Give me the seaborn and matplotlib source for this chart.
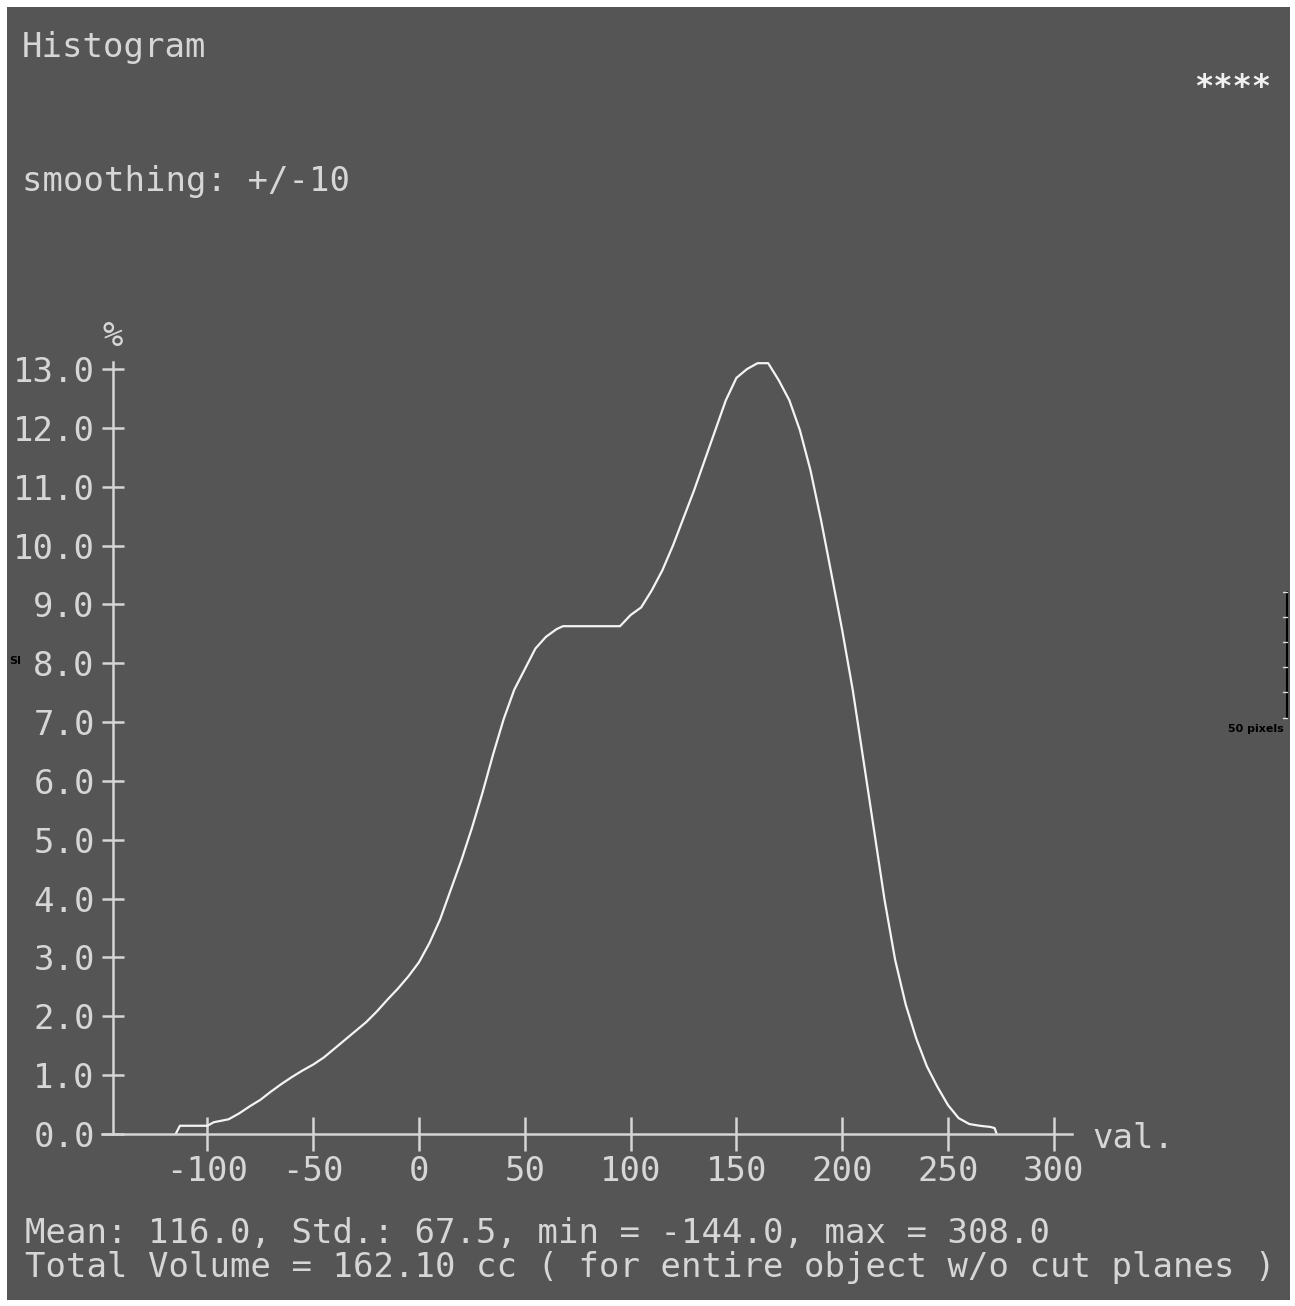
import numpy as np
import pandas as pd
import matplotlib
matplotlib.use("Agg")
import matplotlib.pyplot as plt
import seaborn as sns
from matplotlib.lines import Line2D
from matplotlib.patches import Rectangle

# Histogram curve (value vs percent)
values = [-115, -113, -100, -97, -90, -85, -80, -75, -70, -65, -60, -55, -50,
          -45, -40, -35, -30, -25, -20, -15, -10, -5, 0, 5, 10, 15, 20, 25,
          30, 35, 40, 45, 50, 55, 60, 65, 68, 95, 100, 105, 110, 115, 120,
          125, 130, 135, 140, 145, 150, 155, 160, 165, 170, 175, 180, 185,
          190, 195, 200, 205, 210, 215, 220, 225, 230, 235, 240, 245, 250,
          255, 260, 265, 270, 272, 273]
percent = [0.0, 0.14, 0.14, 0.2, 0.25, 0.35, 0.47, 0.58, 0.72, 0.85, 0.97,
           1.08, 1.18, 1.30, 1.45, 1.6, 1.75, 1.9, 2.08, 2.28, 2.47, 2.68,
           2.92, 3.25, 3.65, 4.15, 4.65, 5.2, 5.8, 6.45, 7.05, 7.55, 7.9,
           8.25, 8.45, 8.58, 8.63, 8.63, 8.82, 8.95, 9.24, 9.58, 10.0, 10.47,
           10.94, 11.45, 11.96, 12.47, 12.85, 13.0, 13.1, 13.1, 12.81, 12.47,
           11.96, 11.28, 10.43, 9.5, 8.56, 7.54, 6.36, 5.17, 3.98, 2.96, 2.2,
           1.62, 1.15, 0.8, 0.49, 0.27, 0.17, 0.14, 0.12, 0.1, 0.0]

x_ticks = [-100, -50, 0, 50, 100, 150, 200, 250, 300]
y_ticks = [0, 1, 2, 3, 4, 5, 6, 7, 8, 9, 10, 11, 12, 13]

title = "Histogram"
smoothing = "smoothing: +/-10"
stats_line = "Mean: 116.0, Std.: 67.5, min = -144.0, max = 308.0"
volume_line = "Total Volume = 162.10 cc ( for entire object w/o cut planes )"

df = pd.DataFrame({"val": values, "pct": percent})

bg = "#555555"
fg = "#d6d6d6"
mono = "DejaVu Sans Mono"
fs = 24.5

sns.set_style("dark")
plt.rcParams["font.family"] = [mono]

W, H = 1295, 1306
fig = plt.figure(figsize=(W / 100, H / 100), dpi=100, facecolor="white")
fig.add_artist(Rectangle((7 / W, 6 / H), (1290 - 7) / W, (1300 - 7) / H,
                         transform=fig.transFigure, facecolor=bg,
                         edgecolor="none", zorder=0))

ax = fig.add_axes([101.6 / W, (H - 1134) / H, (1075 - 101.6) / W, (1134 - 362) / H])
ax.set_facecolor("none")
sns.lineplot(data=df, x="val", y="pct", ax=ax, color="#f4f4f4", linewidth=1.6)

ax.set_xlim(-150, 310)
ax.set_ylim(0, 13.12)
for s in ["top", "right"]:
    ax.spines[s].set_visible(False)
ax.spines["left"].set_position(("data", -144.5))
ax.spines["bottom"].set_position(("data", 0))
ax.spines["left"].set_bounds(0, 13.12)
ax.spines["bottom"].set_bounds(-150, 308.5)
for s in ["left", "bottom"]:
    ax.spines[s].set_visible(True)
    ax.spines[s].set_color(fg)
    ax.spines[s].set_linewidth(1.8)

ax.set_xticks(x_ticks)
ax.set_xticklabels([str(t) for t in x_ticks])
ax.set_yticks(y_ticks)
ax.set_yticklabels([f"{t:.1f}" for t in y_ticks])
ax.tick_params(axis="x", bottom=True, direction="inout", length=24, width=1.8,
               color=fg, labelcolor=fg, labelsize=fs, pad=3)
ax.tick_params(axis="y", left=True, direction="inout", length=16.5, width=1.8,
               color=fg, labelcolor=fg, labelsize=fs, pad=5)
ax.set_xlabel("")
ax.set_ylabel("")
ax.grid(False)

# texts around the plot
def ftext(x, y, s, **kw):
    kw.setdefault("color", fg)
    kw.setdefault("fontsize", fs)
    kw.setdefault("family", mono)
    fig.text(x / W, 1 - y / H, s, **kw)

ftext(22, 48, title, va="center")
ftext(22, 181, smoothing, va="center")
ftext(1271, 88, "****", ha="right", va="center", fontsize=23,
      color="#f0f0f0", fontweight="bold")
ftext(113, 337, "%", ha="center", va="center")
ftext(1092, 1139, "val.", va="center")
ftext(25, 1234, stats_line, va="center")
ftext(25, 1268, volume_line, va="center")

# small overlay marks at the edges
ftext(9, 661, "SI", va="center", fontsize=8, color="black",
      family="DejaVu Sans", fontweight="bold")
x_bar = 1287 / W
fig.add_artist(Line2D([x_bar, x_bar], [1 - 592 / H, 1 - 718 / H],
                      transform=fig.transFigure, color="black", linewidth=1.5))
for yy in [592, 617, 642, 667, 692, 718]:
    fig.add_artist(Line2D([x_bar - 4 / W, x_bar], [1 - yy / H, 1 - yy / H],
                          transform=fig.transFigure, color="#dddddd", linewidth=1))
ftext(1284, 729, "50 pixels", ha="right", va="center", fontsize=8,
      color="black", family="DejaVu Sans", fontweight="bold")

fig.savefig("out.png", dpi=100, facecolor="white")
